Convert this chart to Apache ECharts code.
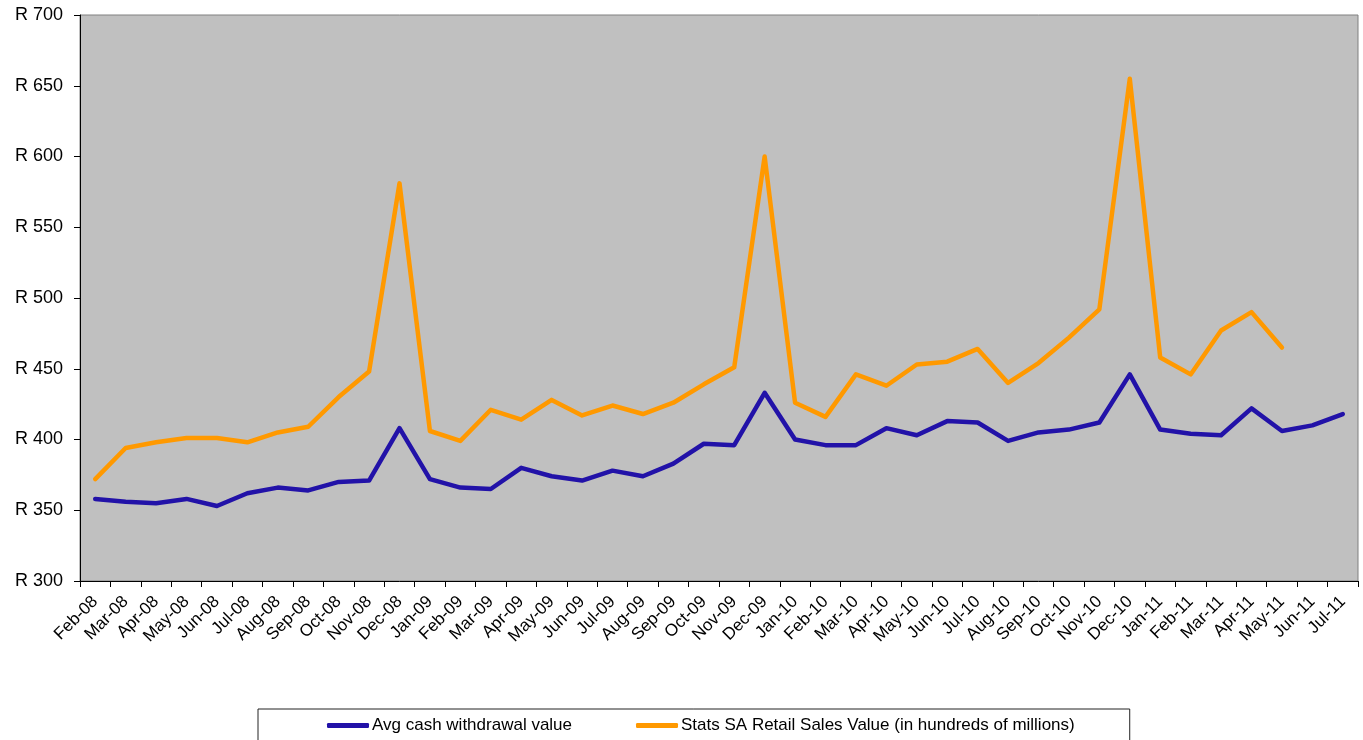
<!DOCTYPE html>
<html>
<head>
<meta charset="utf-8">
<script src="https://cdn.jsdelivr.net/npm/echarts@6/dist/echarts.min.js"></script>
<style>
  html, body { margin: 0; padding: 0; background: #fff; }
  #chart { width: 1363px; height: 740px; }
</style>
</head>
<body>
<div id="chart"></div>
<script>
// months on the x axis
const months = ['Feb-08', 'Mar-08', 'Apr-08', 'May-08', 'Jun-08', 'Jul-08', 'Aug-08', 'Sep-08', 'Oct-08', 'Nov-08', 'Dec-08',
  'Jan-09', 'Feb-09', 'Mar-09', 'Apr-09', 'May-09', 'Jun-09', 'Jul-09', 'Aug-09', 'Sep-09', 'Oct-09', 'Nov-09', 'Dec-09',
  'Jan-10', 'Feb-10', 'Mar-10', 'Apr-10', 'May-10', 'Jun-10', 'Jul-10', 'Aug-10', 'Sep-10', 'Oct-10', 'Nov-10', 'Dec-10',
  'Jan-11', 'Feb-11', 'Mar-11', 'Apr-11', 'May-11', 'Jun-11', 'Jul-11'];

// avg cash withdrawal (R)
const avgCash = [358, 356, 355, 358, 353, 362, 366, 364, 370, 371, 408,
  372, 366, 365, 380, 374, 371, 378, 374, 383, 397, 396, 433,
  400, 396, 396, 408, 403, 413, 412, 399, 405, 407, 412, 446,
  407, 404, 403, 422, 406, 410, 418];

// retail sales value (hundreds of millions), stops at May-11
const retailSales = [372, 394, 398, 401, 401, 398, 405, 409, 430, 448, 581,
  406, 399, 421, 414, 428, 417, 424, 418, 426, 439, 451, 600,
  426, 416, 446, 438, 453, 455, 464, 440, 454, 472, 492, 655,
  458, 446, 477, 490, 465, null, null];

const yTicks = { min: 300, max: 700, step: 50 };

var myChart = echarts.init(document.getElementById('chart'));

var font = 'Liberation Sans, Arial, sans-serif';

var option = {
  animation: false,
  textStyle: { fontFamily: font },
  grid: {
    left: 80,
    right: 5,
    top: 15,
    bottom: 159,
    show: true,
    backgroundColor: '#C0C0C0',
    borderColor: '#808080',
    borderWidth: 1
  },
  legend: {
    left: 258,
    top: 709,
    padding: [8, 55, 30, 69],
    borderColor: '#222',
    borderWidth: 1,
    itemGap: 64,
    itemWidth: 42,
    itemHeight: 5,
    icon: 'roundRect',
    textStyle: { color: '#000', fontSize: 17, fontFamily: font, padding: [0, 0, 0, -2] },
    data: ['Avg cash withdrawal value', 'Stats SA Retail Sales Value (in hundreds of millions)']
  },
  xAxis: {
    type: 'category',
    data: months,
    boundaryGap: true,
    axisLine: { lineStyle: { color: '#000', width: 1 } },
    axisTick: { show: true, length: 6, lineStyle: { color: '#000' } },
    axisLabel: {
      rotate: 45,
      interval: 0,
      margin: 18,
      color: '#000',
      fontSize: 17,
      fontFamily: font
    },
    splitLine: { show: false }
  },
  yAxis: {
    type: 'value',
    min: yTicks.min,
    max: yTicks.max,
    interval: yTicks.step,
    axisLine: { show: true, lineStyle: { color: '#000', width: 1 } },
    axisTick: { show: true, length: 6, lineStyle: { color: '#000' } },
    axisLabel: {
      formatter: function (v) { return 'R ' + v; },
      color: '#000',
      fontSize: 18,
      margin: 17,
      fontFamily: font
    },
    splitLine: { show: false }
  },
  series: [
    {
      name: 'Avg cash withdrawal value',
      type: 'line',
      data: avgCash,
      symbol: 'none',
      color: '#2212A8',
      lineStyle: { width: 4.5, color: '#2212A8', cap: 'round', join: 'round' }
    },
    {
      name: 'Stats SA Retail Sales Value (in hundreds of millions)',
      type: 'line',
      data: retailSales,
      symbol: 'none',
      color: '#FF9900',
      lineStyle: { width: 4.5, color: '#FF9900', cap: 'round', join: 'round' }
    }
  ]
};

myChart.setOption(option);
</script>
</body>
</html>
